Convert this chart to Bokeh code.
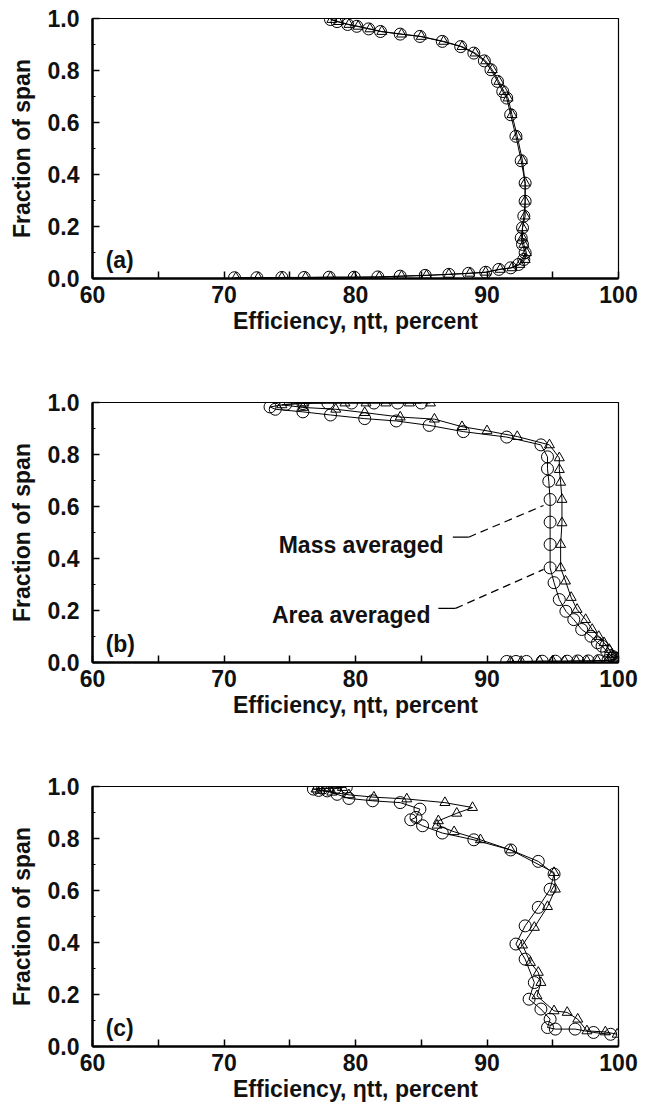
from bokeh.plotting import figure
from bokeh.models import Range1d, FixedTicker, Label
from bokeh.layouts import column
from bokeh.embed import file_html
from bokeh.resources import INLINE

# ---------------- data (efficiency in percent, fraction of span) ----------------
# Panel (a)
a_mass_eff = [70.8, 72.5, 74.4, 76.1, 78.0, 79.9, 81.7, 83.4, 85.3, 87.1, 88.6, 89.9, 90.9, 91.8,
              92.4, 92.8, 92.9, 92.7, 92.6, 92.7, 92.8, 92.9, 92.9, 92.6, 92.2, 91.8, 91.5, 91.2,
              90.8, 90.3, 89.8, 89.0, 88.0, 86.6, 84.9, 83.4, 81.9, 81.0, 80.1, 79.4, 78.6, 78.1]
a_mass_span = [0.003, 0.003, 0.004, 0.004, 0.005, 0.005, 0.006, 0.009, 0.012, 0.016, 0.02, 0.024,
               0.035, 0.041, 0.054, 0.073, 0.099, 0.131, 0.156, 0.195, 0.24, 0.297, 0.367, 0.453,
               0.547, 0.63, 0.694, 0.719, 0.758, 0.803, 0.837, 0.867, 0.892, 0.912, 0.931, 0.94,
               0.95, 0.96, 0.97, 0.977, 0.988, 0.996]
a_area_eff = [70.9, 72.6, 74.4, 76.2, 78.1, 79.9, 81.8, 83.5, 85.4, 87.1, 88.7, 89.9, 91.0, 91.9,
              92.5, 92.9, 93.0, 92.8, 92.7, 92.7, 92.9, 92.9, 92.9, 92.7, 92.3, 91.9, 91.6, 91.3,
              90.9, 90.4, 89.9, 89.1, 88.1, 86.7, 85.0, 83.5, 82.0, 81.1, 80.2, 79.5, 78.7, 78.2]
a_area_span = [0.003, 0.003, 0.004, 0.004, 0.005, 0.005, 0.006, 0.009, 0.012, 0.016, 0.02, 0.024,
               0.035, 0.041, 0.054, 0.073, 0.099, 0.131, 0.156, 0.195, 0.24, 0.297, 0.367, 0.453,
               0.547, 0.63, 0.694, 0.719, 0.758, 0.803, 0.837, 0.867, 0.892, 0.912, 0.931, 0.94,
               0.95, 0.96, 0.97, 0.977, 0.988, 0.996]

# Panel (b)
b_mass_eff = [91.5, 92.2, 93.0, 94.2, 95.2, 96.1, 96.9, 97.7, 98.5, 99.2, 99.7, 99.9, 99.6, 99.4,
              99.1, 98.75, 98.4, 97.9, 97.2, 96.6, 96.0, 95.5, 95.1, 94.8, 94.8, 94.8, 94.8, 94.7,
              94.6, 94.6, 94.1, 91.5, 88.2, 85.6, 83.1, 80.7, 78.1, 76.0, 73.9, 73.5, 74.7, 76.0,
              77.9, 79.7, 81.4, 83.2, 85.0]
b_mass_span = [0.004, 0.004, 0.004, 0.005, 0.005, 0.005, 0.006, 0.006, 0.007, 0.008, 0.01, 0.016,
               0.022, 0.027, 0.044, 0.063, 0.076, 0.101, 0.127, 0.165, 0.197, 0.242, 0.307, 0.364,
               0.454, 0.54, 0.627, 0.697, 0.745, 0.791, 0.837, 0.867, 0.888, 0.912, 0.929, 0.938,
               0.952, 0.964, 0.974, 0.983, 0.993, 0.996, 0.998, 0.998, 0.998, 0.998, 0.998]
b_area_eff = [91.8, 92.6, 94.0, 95.0, 95.9, 96.8, 97.6, 98.4, 99.2, 99.8, 100.0, 99.5, 99.3, 98.9,
              98.5, 98.0, 97.5, 96.85, 96.4, 95.97, 95.6, 95.6, 95.7, 95.7, 95.6, 95.5, 95.5, 94.75,
              92.3, 90.0, 88.1, 86.0, 83.4, 80.7, 78.5, 76.0, 74.4, 76.0, 79.2, 80.8, 82.3, 84.1, 85.7]
b_area_span = [0.004, 0.004, 0.005, 0.005, 0.005, 0.006, 0.006, 0.007, 0.008, 0.012, 0.02, 0.031,
               0.05, 0.076, 0.10, 0.127, 0.165, 0.204, 0.25, 0.313, 0.364, 0.454, 0.537, 0.627,
               0.693, 0.742, 0.787, 0.837, 0.869, 0.891, 0.907, 0.936, 0.944, 0.961, 0.974, 0.981,
               0.991, 0.998, 0.998, 0.998, 0.998, 0.998, 0.998]

# Panel (c)
c_mass_eff = [99.4, 98.1, 96.7, 95.2, 94.6, 94.8, 94.1, 93.2, 93.6, 92.9, 92.2, 92.9, 93.9, 94.8,
              95.1, 93.9, 91.8, 89.0, 86.6, 85.1, 84.2, 84.6, 84.9, 83.4, 81.3, 79.5, 78.6, 77.85,
              77.2, 76.8, 77.5, 78.5, 79.3]
c_mass_span = [0.047, 0.054, 0.067, 0.067, 0.073, 0.105, 0.144, 0.182, 0.246, 0.336, 0.394, 0.464,
               0.535, 0.605, 0.663, 0.712, 0.756, 0.795, 0.821, 0.849, 0.872, 0.881, 0.913, 0.938,
               0.945, 0.954, 0.97, 0.983, 0.985, 0.99, 0.993, 0.995, 0.997]
c_area_eff = [99.9, 99.0, 97.6, 96.9, 96.1, 95.1, 93.8, 94.1, 93.9, 93.3, 92.7, 93.6, 94.6, 95.2,
              95.1, 91.8, 89.5, 87.5, 86.2, 86.3, 87.7, 88.9, 86.8, 83.9, 81.4, 79.5, 78.2, 77.3,
              77.0, 78.0, 79.0]
c_area_span = [0.047, 0.056, 0.06, 0.105, 0.131, 0.137, 0.195, 0.246, 0.285, 0.323, 0.39, 0.458,
               0.538, 0.605, 0.669, 0.756, 0.795, 0.826, 0.851, 0.868, 0.897, 0.919, 0.938, 0.952,
               0.959, 0.968, 0.978, 0.985, 0.99, 0.993, 0.996]

x_major_ticks = [60, 70, 80, 90, 100]
x_minor_ticks = [65, 75, 85, 95]
y_major_ticks = [0.0, 0.2, 0.4, 0.6, 0.8, 1.0]
y_minor_ticks = [0.1, 0.3, 0.5, 0.7, 0.9]
y_tick_labels = {0.0: "0.0", 0.2: "0.2", 0.4: "0.4", 0.6: "0.6", 0.8: "0.8", 1.0: "1.0"}

panel_tags = ["(a)", "(b)", "(c)"]
y_title = "Fraction of span"
x_title = "Efficiency, \u03b7tt, percent"

# annotations of panel (b): text, text anchor (eff, span), solid stub, dashed leader end
ann_text = ["Mass averaged", "Area averaged"]
ann_text_x = [86.7, 85.7]
ann_text_y = [0.452, 0.181]
ann_stub_x0 = [87.4, 86.3]
ann_stub_x1 = [88.6, 87.6]
ann_stub_y = [0.482, 0.208]
ann_end_x = [94.3, 94.3]
ann_end_y = [0.604, 0.358]

# ---------------- style / layout ----------------
FONT = "Liberation Sans"
FS = "23px"
FRAME_W, FRAME_H = 526, 260
LEFT, RIGHT, TOP = 92, 31, 18


def make_panel(tag, cx, cy, tx, ty, bottom_border):
    p = figure(frame_width=FRAME_W, frame_height=FRAME_H, output_backend="svg",
               toolbar_location=None, x_range=Range1d(60, 100), y_range=Range1d(0, 1),
               min_border_left=LEFT, min_border_right=RIGHT, min_border_top=TOP,
               min_border_bottom=bottom_border)
    p.grid.visible = False
    p.outline_line_color = "black"
    p.outline_line_width = 1.2
    p.background_fill_color = "white"
    p.border_fill_color = "white"

    xa = p.xaxis[0]
    xa.ticker = FixedTicker(ticks=x_major_ticks, minor_ticks=x_minor_ticks)
    xa.major_tick_in = 7
    xa.major_tick_out = 0
    xa.minor_tick_in = 7
    xa.minor_tick_out = 0
    xa.axis_line_width = 2.5
    xa.major_tick_line_width = 1.5
    xa.minor_tick_line_width = 1.5
    xa.major_label_text_font = FONT
    xa.major_label_text_font_size = FS
    xa.major_label_text_font_style = "bold"
    xa.major_label_text_color = "#111111"
    xa.major_label_standoff = 7
    xa.axis_label = x_title
    xa.axis_label_text_font = FONT
    xa.axis_label_text_font_size = FS
    xa.axis_label_text_font_style = "bold"
    xa.axis_label_text_color = "#111111"
    xa.axis_label_standoff = 2

    ya = p.yaxis[0]
    ya.ticker = FixedTicker(ticks=y_major_ticks, minor_ticks=y_minor_ticks)
    ya.major_label_overrides = y_tick_labels
    ya.major_tick_in = 7
    ya.major_tick_out = 0
    ya.minor_tick_in = 3
    ya.minor_tick_out = 0
    ya.axis_line_width = 2.5
    ya.major_tick_line_width = 1.5
    ya.major_label_text_font = FONT
    ya.major_label_text_font_size = FS
    ya.major_label_text_font_style = "bold"
    ya.major_label_text_color = "#111111"
    ya.major_label_standoff = 13
    ya.axis_label = y_title
    ya.axis_label_text_font = FONT
    ya.axis_label_text_font_size = FS
    ya.axis_label_text_font_style = "bold"
    ya.axis_label_text_color = "#111111"
    ya.axis_label_standoff = 10

    p.line(cx, cy, line_color="black", line_width=1)
    p.line(tx, ty, line_color="black", line_width=1)
    p.scatter(cx, cy, marker="circle", size=12, fill_color=None, line_color="black", line_width=1)
    p.scatter(tx, ty, marker="triangle", size=10, fill_color=None, line_color="black", line_width=1)

    p.add_layout(Label(x=61.0, y=0.072, text=tag, text_font=FONT, text_font_size=FS,
                       text_font_style="bold", text_color="#111111", text_align="left",
                       text_baseline="alphabetic"))
    return p


pa = make_panel(panel_tags[0], a_mass_eff, a_mass_span, a_area_eff, a_area_span, 106)
pb = make_panel(panel_tags[1], b_mass_eff, b_mass_span, b_area_eff, b_area_span, 106)
pc = make_panel(panel_tags[2], c_mass_eff, c_mass_span, c_area_eff, c_area_span, 62)

# annotations in panel (b)
for i in range(2):
    pb.add_layout(Label(x=ann_text_x[i], y=ann_text_y[i], text=ann_text[i], text_font=FONT,
                        text_font_size=FS, text_font_style="bold", text_color="#111111",
                        text_align="right", text_baseline="alphabetic"))
pb.segment(x0=ann_stub_x0, y0=ann_stub_y, x1=ann_stub_x1, y1=ann_stub_y,
           line_color="black", line_width=1.2)
pb.segment(x0=ann_stub_x1, y0=ann_stub_y, x1=ann_end_x, y1=ann_end_y,
           line_color="black", line_width=1.2, line_dash="8 5")

layout = column(pa, pb, pc, spacing=0)
open("out.html", "w").write(file_html(layout, INLINE))
